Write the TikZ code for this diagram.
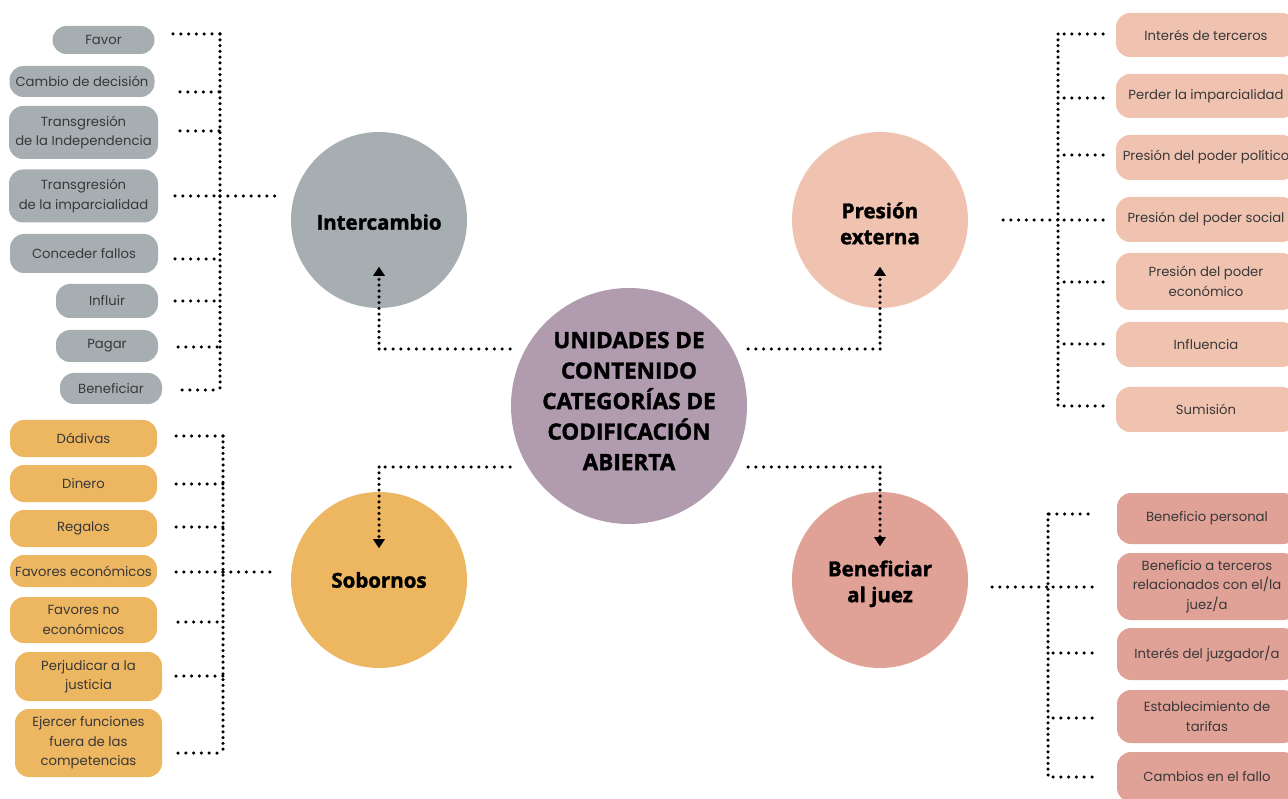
\documentclass[tikz,border=0pt]{standalone}
\usepackage{fontspec}
\setmainfont{Poppins}
\newfontfamily\titlefont{Open Sans}[BoldFeatures={FakeBold=1.6}]
\usetikzlibrary{arrows.meta}
\definecolor{cgray}{HTML}{A7AEB2}
\definecolor{cpeach}{HTML}{F0C3B1}
\definecolor{cpurple}{HTML}{B09BAF}
\definecolor{corange}{HTML}{EDB660}
\definecolor{crose}{HTML}{E0A197}
\definecolor{boxtext}{HTML}{383838}
\begin{document}
\begin{tikzpicture}[x=1pt,y=-1pt,
  box/.style={rounded corners=14pt, inner sep=1pt, align=center, text=boxtext,
    font=\fontsize{13.2}{19.5}\selectfont},
  gbox/.style={box, fill=cgray},
  obox/.style={box, fill=corange},
  pbox/.style={box, fill=cpeach, minimum width=180},
  rbox/.style={box, fill=crose, minimum width=180},
  topic/.style={circle, minimum size=176, inner sep=0pt, align=center, text=black,
    font=\titlefont\bfseries\fontsize{20.5}{26}\selectfont},
  hd/.style={line width=3.5pt, line cap=round, dash pattern=on 0pt off 7.8pt},
  vd/.style={line width=3.5pt, line cap=round, dash pattern=on 0pt off 5.8pt},
  tip/.style={-{Triangle[width=12pt,length=9pt,line width=0.1pt]}}
]
\useasboundingbox (0,0) rectangle (1288,799);

% circles
\node[circle, fill=cpurple, minimum size=236, inner sep=0pt, align=center,
  font=\titlefont\bfseries\fontsize{22.5}{30.5}\selectfont] (central) at (629,406)
  {\raisebox{3pt}[\height][\depth]{\begin{tabular}{@{}c@{}}UNIDADES DE\\CONTENIDO\\CATEGORÍAS DE\\CODIFICACIÓN\\ABIERTA\end{tabular}}};
\node[topic, fill=cgray] (inter) at (379,220) {\raisebox{-2pt}[\height][\depth]{Intercambio}};
\node[topic, fill=cpeach] (pres) at (880,220)
  {\raisebox{-6pt}[\height][\depth]{\begin{tabular}{@{}c@{}}Presión\\externa\end{tabular}}};
\node[topic, fill=corange] (sob) at (379,580) {Sobornos};
\node[topic, fill=crose] (ben) at (880,580)
  {\raisebox{-4pt}[\height][\depth]{\begin{tabular}{@{}c@{}}Beneficiar\\al juez\end{tabular}}};

% gray boxes
\node[gbox, minimum width=102, minimum height=28] (g1) at (103.5,40) {Favor};
\node[gbox, minimum width=145, minimum height=31] (g2) at (82,81.5) {Cambio de decisión};
\node[gbox, minimum width=149, minimum height=53] (g3) at (83.5,132.5) {Transgresión\\de la Independencia};
\node[gbox, minimum width=149, minimum height=53] (g4) at (83.5,196) {Transgresión\\de la imparcialidad};
\node[gbox, minimum width=148, minimum height=39] (g5) at (84,253.5) {Conceder fallos};
\node[gbox, minimum width=102, minimum height=34] (g6) at (107,301) {Influir};
\node[gbox, minimum width=102, minimum height=32] (g7) at (107,346) {Pagar};
\node[gbox, minimum width=102, minimum height=31] (g8) at (111,388.5) {Beneficiar};

% orange boxes
\node[obox, minimum width=147, minimum height=37] (o1) at (83.5,438.5) {Dádivas};
\node[obox, minimum width=147, minimum height=37] (o2) at (83.5,483.5) {Dinero};
\node[obox, minimum width=147, minimum height=37] (o3) at (83.5,528.5) {Regalos};
\node[obox, minimum width=147, minimum height=32] (o4) at (83.5,571) {Favores económicos};
\node[obox, minimum width=147, minimum height=46] (o5) at (83.5,620) {Favores no\\económicos};
\node[obox, minimum width=147, minimum height=49] (o6) at (88.5,676.5) {Perjudicar a la\\justicia};
\node[obox, minimum width=147, minimum height=68] (o7) at (88.5,743) {Ejercer funciones\\fuera de las\\competencias};

% peach boxes
\node[pbox, minimum height=44] (p1) at (1206,35) {Interés de terceros};
\node[pbox, minimum height=44] (p2) at (1206,96) {Perder la imparcialidad};
\node[pbox, minimum height=45] (p3) at (1206,157.5) {Presión del poder político};
\node[pbox, minimum height=45] (p4) at (1206,219.5) {Presión del poder social};
\node[pbox, minimum height=57] (p5) at (1206,281.5) {Presión del poder\\económico};
\node[pbox, minimum height=45] (p6) at (1206,344.5) {Influencia};
\node[pbox, minimum height=45] (p7) at (1206,409.5) {Sumisión};

% rose boxes
\node[rbox, minimum height=51] (r1) at (1207,518.5) {Beneficio personal};
\node[rbox, minimum height=67] (r2) at (1207,586.5) {Beneficio a terceros\\relacionados con el/la\\juez/a};
\node[rbox, minimum height=52] (r3) at (1207,654) {Interés del juzgador/a};
\node[rbox, minimum height=53] (r4) at (1207,716.5) {Establecimiento de\\tarifas};
\node[rbox, minimum height=50] (r5) at (1207,777) {Cambios en el fallo};

% ---- connectors: gray group
\coordinate (tgT) at (220,34);
\coordinate (tgB) at (220,390);
\coordinate (tgM) at (220,196);
\coordinate (tgE) at (277,196);
\coordinate (sg1) at (173,34);
\coordinate (sg2) at (180,92);
\coordinate (sg3) at (180,131);
\coordinate (sg4) at (175,196);
\coordinate (sg5) at (175,259);
\coordinate (sg6) at (175,301);
\coordinate (sg7) at (178,347);
\coordinate (sg8) at (182,390);
\draw[vd] (tgT) -- (tgB);
\foreach \s in {sg1,sg2,sg3,sg4,sg5,sg6,sg7,sg8} \draw[hd] (\s) -- (\s -| tgT);
\draw[hd] (tgM) -- (tgE);

% ---- orange group
\coordinate (toT) at (223,436);
\coordinate (toB) at (223,753);
\coordinate (toM) at (223,572);
\coordinate (toE) at (277,572);
\coordinate (so1) at (176,436);
\coordinate (so2) at (176,484);
\coordinate (so3) at (176,527);
\coordinate (so4) at (176,572);
\coordinate (so5) at (178,622);
\coordinate (so6) at (176,676);
\coordinate (so7) at (178,753);
\draw[vd] (toT) -- (toB);
\foreach \s in {so1,so2,so3,so4,so5,so6,so7} \draw[hd] (\s) -- (\s -| toT);
\draw[hd] (toM) -- (toE);

% ---- peach group
\coordinate (tpT) at (1058,34);
\coordinate (tpB) at (1058,406);
\coordinate (tpM) at (1058,220);
\coordinate (tpE) at (1003,220);
\coordinate (sp1) at (1103,34);
\coordinate (sp2) at (1103,98);
\coordinate (sp3) at (1103,155);
\coordinate (sp4) at (1103,220);
\coordinate (sp5) at (1103,282);
\coordinate (sp6) at (1103,344);
\coordinate (sp7) at (1103,406);
\draw[vd] (tpT) -- (tpB);
\foreach \s in {sp1,sp2,sp3,sp4,sp5,sp6,sp7} \draw[hd] (\s) -- (\s -| tpT);
\draw[hd] (tpE) -- (tpM);

% ---- rose group
\coordinate (trT) at (1048,514);
\coordinate (trB) at (1048,777);
\coordinate (trM) at (1048,587);
\coordinate (trE) at (992,587);
\coordinate (sr1) at (1088,514);
\coordinate (sr2) at (1092,587);
\coordinate (sr3) at (1092,653);
\coordinate (sr4) at (1092,718);
\coordinate (sr5) at (1092,777);
\draw[vd] (trT) -- (trB);
\foreach \s in {sr1,sr2,sr3,sr4,sr5} \draw[hd] (\s) -- (\s -| trT);
\draw[hd] (trE) -- (trM);

% ---- central arrows
\coordinate (cUL) at (510,349);
\coordinate (kUL) at (379,349);
\coordinate (aUL) at (379,267);
\coordinate (cUR) at (748,349);
\coordinate (kUR) at (880,349);
\coordinate (aUR) at (880,267);
\coordinate (cLL) at (510,467);
\coordinate (kLL) at (379,467);
\coordinate (aLL) at (379,548);
\coordinate (cLR) at (748,467);
\coordinate (kLR) at (880,467);
\coordinate (aLR) at (880,546);
\draw[hd] (cUL) -- (kUL);
\draw[vd, tip] (kUL) -- (aUL);
\draw[hd] (cUR) -- (kUR);
\draw[vd, tip] (kUR) -- (aUR);
\draw[hd] (cLL) -- (kLL);
\draw[vd, tip] (kLL) -- (aLL);
\draw[hd] (cLR) -- (kLR);
\draw[vd, tip] (kLR) -- (aLR);
\end{tikzpicture}
\end{document}
